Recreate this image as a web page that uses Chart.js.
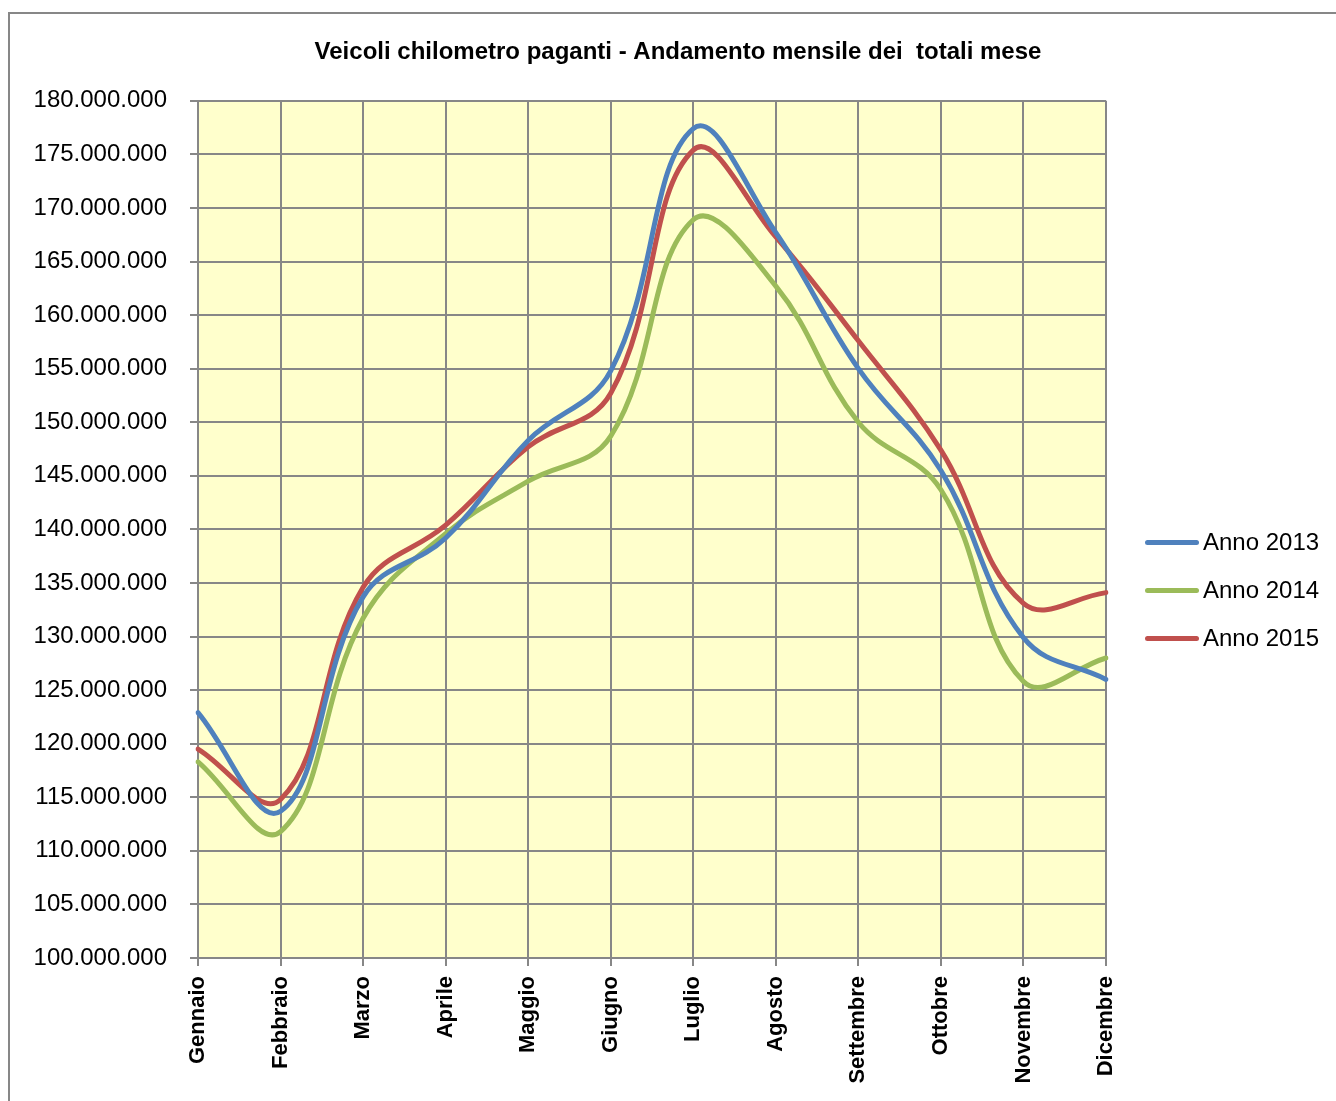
<!DOCTYPE html>
<html lang="it">
<head>
  <meta charset="UTF-8">
  <title>Veicoli chilometro paganti</title>
  <script src="https://cdn.jsdelivr.net/npm/chart.js"></script>
  <style>
    body {
      margin: 0;
      background: #ffffff;
      font-family: 'Liberation Sans', Arial, sans-serif;
    }
    .wrap {
      position: relative;
      width: 1336px;
      height: 1101px;
      overflow: hidden;
    }
    .frame {
      position: absolute;
      left: 8px;
      top: 12px;
      width: 1340px;
      height: 1100px;
      border: 2px solid #878787;
    }
    canvas {
      position: absolute;
      left: 0;
      top: 0;
    }
    .legend {
      position: absolute;
      left: 1145px;
      top: 518px;
    }
    .legend-item {
      display: flex;
      align-items: center;
      height: 48px;
      font-size: 24px;
      color: #000;
    }
    .legend-item span.swatch {
      display: inline-block;
      width: 54px;
      height: 5px;
      border-radius: 3px;
      margin-right: 4px;
    }
  </style>
</head>
<body>

  <div class="wrap">
    <div class="frame"></div>
    <canvas id="kmChart" width="1336" height="1101"></canvas>
    <div class="legend" id="legend"></div>
  </div>

  <script>
    const MONTHS = ['Gennaio', 'Febbraio', 'Marzo', 'Aprile', 'Maggio', 'Giugno',
                    'Luglio', 'Agosto', 'Settembre', 'Ottobre', 'Novembre', 'Dicembre'];

    // valori (veicoli-km)
    const ANNO_2013 = [122900000, 113700000, 133700000, 139200000, 148300000, 154800000,
                       177400000, 167700000, 155000000, 145500000, 129900000, 126000000];
    const ANNO_2014 = [118300000, 111800000, 131700000, 139600000, 144500000, 148700000,
                       168900000, 162700000, 150000000, 143700000, 125800000, 128000000];
    const ANNO_2015 = [119500000, 114800000, 134600000, 140400000, 147700000, 152700000,
                       175400000, 167300000, 157600000, 147400000, 133100000, 134100000];

    const SERIES = [
      { label: 'Anno 2013', data: ANNO_2013, color: '#4F81BD' },
      { label: 'Anno 2014', data: ANNO_2014, color: '#9BBB59' },
      { label: 'Anno 2015', data: ANNO_2015, color: '#C0504D' }
    ];

    const GRID = '#878787';
    const FONT = "'Liberation Sans', Arial, sans-serif";

    function formatDots(v) {
      return Math.round(v).toString().replace(/\B(?=(\d{3})+(?!\d))/g, '.');
    }

    // sfondo giallo dell'area del grafico
    const plotBackground = {
      id: 'plotBackground',
      beforeDraw(chart) {
        const { ctx, chartArea } = chart;
        ctx.save();
        ctx.fillStyle = '#FFFFCC';
        ctx.fillRect(chartArea.left, chartArea.top,
                     chartArea.right - chartArea.left, chartArea.bottom - chartArea.top);
        ctx.restore();
      }
    };

    const ctx = document.getElementById('kmChart').getContext('2d');
    new Chart(ctx, {
      type: 'line',
      data: {
        labels: MONTHS,
        datasets: SERIES.map(s => ({
          label: s.label,
          data: s.data,
          borderColor: s.color,
          backgroundColor: s.color,
          borderWidth: 5,
          pointRadius: 0,
          fill: false,
          tension: 0.4,
          borderCapStyle: 'round'
        }))
      },
      plugins: [plotBackground],
      options: {
        responsive: false,
        animation: false,
        layout: { padding: { left: 20, right: 0, top: 0, bottom: 0 } },
        plugins: {
          legend: { display: false },
          tooltip: { enabled: false },
          title: {
            display: true,
            text: 'Veicoli chilometro paganti - Andamento mensile dei  totali mese',
            color: '#000',
            font: { family: FONT, size: 24, weight: 'bold', lineHeight: 1.2 },
            padding: { top: 38, bottom: 34 }
          }
        },
        scales: {
          x: {
            offset: false,
            grid: { color: GRID, lineWidth: 2, tickLength: 8 },
            border: { color: GRID, width: 2 },
            ticks: {
              color: '#000',
              autoSkip: false,
              maxRotation: 90,
              minRotation: 90,
              padding: 10,
              font: { family: FONT, size: 22, weight: 'bold' }
            },
            afterFit(scale) { scale.height = 143; }
          },
          y: {
            min: 100000000,
            max: 180000000,
            grid: { color: GRID, lineWidth: 2, tickLength: 8 },
            border: { color: GRID, width: 2 },
            ticks: {
              stepSize: 5000000,
              color: '#000',
              padding: 23,
              font: { family: FONT, size: 24 },
              callback: v => formatDots(v)
            },
            afterFit(scale) { scale.width = 178; }
          },
          // spazio vuoto a destra per la legenda
          legendSpace: {
            axis: 'y',
            position: 'right',
            grid: { display: false },
            border: { display: false },
            ticks: { display: false },
            afterFit(scale) { scale.width = 230; }
          }
        }
      }
    });

    // legenda
    const legend = document.getElementById('legend');
    SERIES.forEach(s => {
      const item = document.createElement('div');
      item.className = 'legend-item';
      item.innerHTML = '<span class="swatch" style="background:' + s.color + '"></span>' + s.label;
      legend.appendChild(item);
    });
  </script>

</body>
</html>
